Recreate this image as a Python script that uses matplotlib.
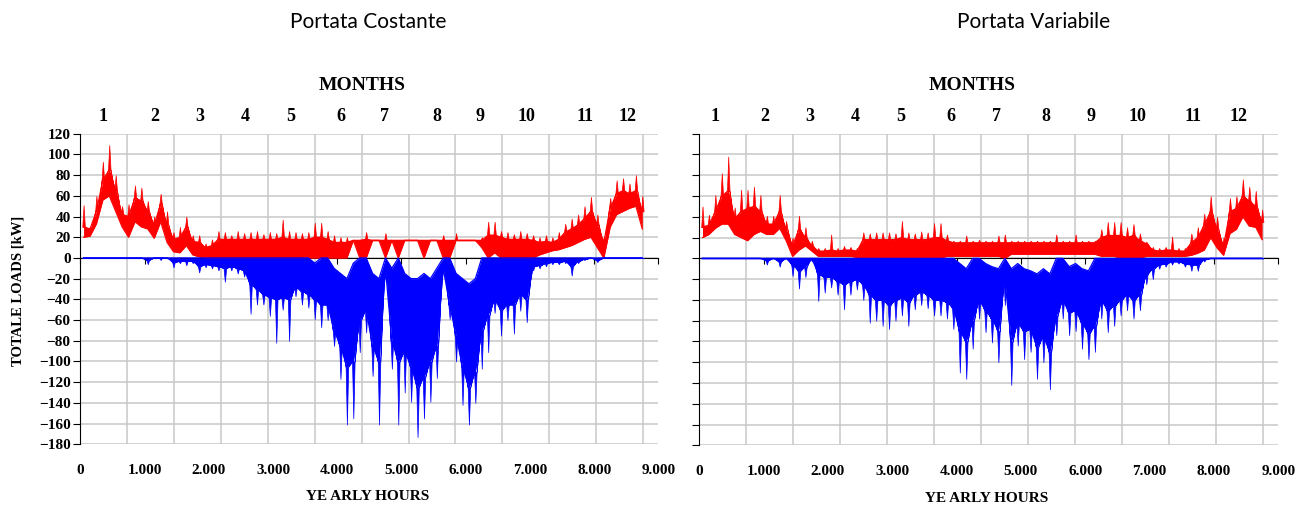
import numpy as np
import matplotlib.pyplot as plt

# hourly loads, summarised per 100-hour block (kW):
# for each series the two edges of the dense band (lo / body for heating,
# hi / body for cooling) and the furthest spike of the block
bin_start = np.arange(0, 8800, 100)
bin_mid = bin_start + 50

# Portata Costante
const_heat_hi = [51, 30, 60, 93, 109, 80, 50, 52, 70, 68,
                 55, 40, 62, 45, 25, 30, 40, 22, 22, 14,
                 18, 26, 25, 22, 26, 24, 25, 26, 23, 25,
                 24, 37, 26, 25, 24, 25, 34, 34, 26, 22,
                 20, 20, 17, 17, 25, 17, 17, 24, 17, 17,
                 17, 17, 17, 17, 17, 17, 22, 17, 24, 17,
                 17, 17, 20, 35, 35, 26, 25, 23, 26, 24,
                 22, 20, 22, 20, 25, 33, 38, 42, 50, 59,
                 42, 20, 58, 75, 77, 72, 80, 60]
const_heat_body = [30, 28, 45, 75, 85, 65, 42, 40, 58, 55,
                   45, 32, 52, 32, 18, 20, 30, 16, 15, 10,
                   12, 18, 18, 18, 18, 18, 18, 18, 18, 18,
                   18, 20, 18, 18, 18, 18, 20, 20, 18, 15,
                   15, 15, 17, 17, 18, 17, 17, 17, 17, 17,
                   17, 17, 17, 17, 17, 17, 17, 17, 17, 17,
                   17, 17, 17, 22, 22, 20, 18, 18, 18, 18,
                   17, 15, 16, 15, 18, 25, 28, 32, 38, 45,
                   32, 15, 48, 62, 65, 62, 65, 45]
const_heat_lo = [20, 21, 33, 56, 60, 45, 30, 20, 35, 30,
                 28, 19, 35, 15, 6, 5, 12, 3, 1, 0,
                 0, 0, 0, 0, 0, 0, 0, 0, 0, 0,
                 0, 0, 0, 0, 0, 0, 0, 0, 0, 0,
                 0, 0, 17, 0, 0, 17, 17, 0, 17, 0,
                 17, 17, 17, 0, 17, 17, 0, 0, 17, 17,
                 17, 17, 10, 0, 5, 0, 0, 0, 0, 0,
                 0, 3, 5, 7, 8, 10, 12, 15, 18, 20,
                 10, 0, 30, 42, 45, 48, 50, 28]
const_cool_hi = [0, 0, 0, 0, 0, 0, 0, 0, 0, 0,
                 0, 0, 0, 0, 0, 0, 0, 0, 0, 0,
                 0, 0, 0, 0, 0, 0, 0, 0, 0, 0,
                 0, 0, 0, 0, 0, 0, -5, 0, 0, -10,
                 -15, -20, -5, 0, 0, -15, -20, 0, -10, 0,
                 -15, -20, -20, -15, -20, -10, 0, 0, -15, -20,
                 -25, -20, 0, 0, 0, 0, 0, 0, 0, 0,
                 0, 0, 0, 0, 0, 0, 0, 0, 0, 0,
                 0, 0, 0, 0, 0, 0, 0, 0]
const_cool_body = [0, 0, 0, 0, 0, 0, 0, 0, 0, 0,
                   -2, 0, 0, 0, -4, -3, -3, -3, -8, -6,
                   -7, -8, -10, -8, -10, -12, -25, -30, -35, -38,
                   -40, -38, -40, -28, -32, -35, -40, -45, -45, -70,
                   -85, -105, -100, -60, -50, -85, -100, -10, -80, -100,
                   -90, -105, -125, -115, -100, -85, -10, -45, -75, -105,
                   -125, -110, -70, -55, -40, -50, -45, -45, -35, -40,
                   -8, -7, -5, -4, -4, -3, -8, -3, -1, 0,
                   -2, 0, 0, 0, 0, 0, 0, 0]
const_cool_lo = [0, 0, 0, 0, 0, 0, 0, 0, 0, 0,
                 -6, 0, -2, 0, -9, -5, -7, -5, -14, -9,
                 -10, -12, -23, -12, -15, -18, -54, -45, -45, -56,
                 -82, -50, -80, -37, -45, -48, -59, -67, -60, -85,
                 -117, -161, -155, -91, -72, -114, -161, -20, -107, -161,
                 -130, -139, -173, -155, -139, -116, -15, -59, -100, -142,
                 -161, -140, -107, -91, -53, -75, -60, -73, -51, -62,
                 -12, -10, -8, -6, -6, -5, -17, -5, -2, 0,
                 -4, 0, 0, 0, 0, 0, 0, 0]

# Portata Variabile
var_heat_hi = [50, 42, 61, 82, 98, 49, 66, 66, 69, 61,
               41, 41, 61, 36, 20, 41, 30, 17, 10, 10,
               23, 10, 12, 11, 10, 25, 24, 25, 25, 25,
               24, 36, 25, 24, 26, 25, 34, 34, 23, 17,
               17, 22, 17, 18, 17, 17, 22, 23, 17, 17,
               17, 17, 17, 17, 17, 23, 17, 17, 23, 17,
               17, 17, 28, 35, 35, 35, 30, 33, 24, 16,
               11, 10, 11, 21, 10, 10, 24, 30, 43, 60,
               40, 20, 58, 60, 76, 69, 65, 47]
var_heat_body = [30, 32, 45, 60, 65, 38, 45, 48, 50, 45,
                 33, 33, 45, 28, 12, 28, 20, 12, 7, 7,
                 8, 7, 8, 8, 7, 18, 18, 18, 18, 18,
                 18, 20, 18, 18, 18, 18, 20, 20, 17, 15,
                 15, 15, 15, 15, 15, 15, 15, 15, 15, 15,
                 15, 15, 15, 15, 15, 15, 15, 15, 15, 15,
                 15, 15, 20, 22, 22, 22, 20, 22, 17, 14,
                 8, 7, 8, 8, 7, 7, 15, 20, 32, 45,
                 28, 12, 45, 48, 60, 55, 50, 35]
var_heat_lo = [20, 23, 29, 33, 33, 23, 20, 17, 23, 26,
               23, 23, 29, 17, 2, 8, 12, 7, 2, 2,
               2, 2, 2, 2, 1, 0, 0, 0, 0, 0,
               0, 0, 0, 0, 0, 0, 0, 0, 2, 2,
               2, 2, 2, 2, 2, 2, 2, 0, 4, 4,
               4, 4, 4, 4, 4, 4, 4, 4, 4, 4,
               4, 4, 2, 2, 2, 0, 0, 0, 0, 2,
               2, 2, 2, 2, 2, 2, 3, 5, 8, 20,
               10, 3, 24, 28, 40, 31, 30, 18]
var_cool_hi = [0, 0, 0, 0, 0, 0, 0, 0, 0, 0,
               0, 0, 0, 0, 0, 0, 0, 0, 0, 0,
               0, 0, 0, 0, 0, 0, 0, 0, 0, 0,
               0, 0, 0, 0, 0, 0, 0, 0, 0, 0,
               -5, -10, 0, 0, -5, -8, -10, 0, -10, -5,
               -10, -12, -15, -10, -15, 0, 0, -8, -5, -10,
               -12, 0, 0, 0, 0, 0, 0, 0, 0, 0,
               0, 0, 0, 0, 0, 0, 0, 0, 0, 0,
               0, 0, 0, 0, 0, 0, 0, 0]
var_cool_body = [0, 0, 0, 0, 0, 0, 0, 0, 0, 0,
                 -2, 0, -3, 0, -6, -12, -8, 0, -15, -18,
                 -18, -22, -25, -22, -20, -25, -35, -40, -40, -45,
                 -40, -38, -42, -35, -32, -35, -40, -40, -42, -48,
                 -70, -80, -60, -40, -50, -58, -70, -20, -80, -62,
                 -70, -68, -85, -75, -90, -55, -40, -52, -50, -62,
                 -72, -65, -40, -50, -45, -40, -35, -40, -35, -15,
                 -10, -6, -5, -3, -3, -5, -6, -6, -1, 0,
                 0, 0, 0, 0, 0, 0, 0, 0]
var_cool_lo = [0, 0, 0, 0, 0, 0, 0, 0, 0, 0,
               -6, 0, -8, 0, -17, -29, -18, -3, -41, -33,
               -28, -35, -49, -35, -30, -40, -62, -60, -65, -68,
               -60, -55, -65, -49, -45, -48, -55, -55, -58, -68,
               -110, -116, -87, -58, -71, -81, -100, -45, -122, -84,
               -97, -90, -116, -100, -126, -74, -58, -74, -70, -87,
               -97, -90, -58, -71, -65, -55, -50, -58, -50, -25,
               -20, -10, -8, -6, -5, -8, -12, -12, -3, 0,
               0, 0, 0, 0, 0, 0, 0, 0]

# month label positions along the top (hours) and bottom tick labels
const_month_pos = [358, 1153, 1854, 2570, 3271, 4050, 4735, 5545, 6230, 6947, 7850, 8520]
var_month_pos = [249, 1018, 1720, 2426, 3126, 3913, 4614, 5381, 6089, 6812, 7682, 8382]
month_names = [str(m) for m in range(1, 13)]
hour_ticks = list(range(0, 9001, 1000))
hour_labels = ['0'] + [f'{t // 1000}.000' for t in hour_ticks[1:]]
month_edges = np.arange(0, 8761, 730)

SERIF = 'Liberation Serif'
RED = '#ff0000'
BLUE = '#0000ff'
GRID = '#c8c8c8'


def draw_series(ax, edge, body, peak, color, z):
    # dense part of the band
    ax.fill_between(bin_mid, edge, body, color=color, lw=0, zorder=z)
    ax.plot(bin_mid, edge, color=color, lw=0.9, zorder=z)
    ax.plot(bin_mid, body, color=color, lw=0.9, zorder=z)
    # the furthest spike of each block, drawn as a narrow needle
    body = np.asarray(body)
    peak = np.asarray(peak)
    xs = np.column_stack([bin_start + 30, bin_mid, bin_start + 70]).ravel()
    tip = np.column_stack([body, peak, body]).ravel()
    base = np.repeat(body, 3)
    ax.fill_between(xs, tip, base, color=color, lw=0.5, edgecolor=color, zorder=z)


def draw_panel(ax, heat, cool, month_pos, show_ylabels):
    ax.set_xlim(0, 9000)
    ax.set_ylim(-180, 120)
    ax.set_yticks(range(-180, 121, 20))
    ax.set_xticks(hour_ticks)
    ax.set_axisbelow(True)
    ax.yaxis.grid(True, color=GRID, lw=1.1)
    for h in month_edges[1:]:
        ax.axvline(h, color=GRID, lw=1.1, zorder=0.5)

    for s in ['top', 'right']:
        ax.spines[s].set_visible(False)
    ax.spines['left'].set_color('black')
    ax.spines['bottom'].set_position(('data', 0))
    ax.spines['bottom'].set_color('black')
    ax.tick_params(axis='x', direction='out', length=4, labelbottom=False)
    ax.tick_params(axis='y', direction='out', length=5, labelleft=show_ylabels,
                   labelsize=11, pad=2)
    for lab in ax.get_yticklabels():
        lab.set_fontfamily(SERIF)
        lab.set_fontweight('bold')

    draw_series(ax, *heat, RED, 3)
    draw_series(ax, *cool, BLUE, 3.1)

    tr = ax.get_xaxis_transform()
    for t, lab in zip(hour_ticks, hour_labels):
        ax.text(t, -0.084, lab, transform=tr, ha='center', va='center',
                family=SERIF, fontweight='bold', fontsize=11)
    for p, m in zip(month_pos, month_names):
        ax.text(p, 1.055, m, transform=tr, ha='center', va='center',
                family=SERIF, fontweight='bold', fontsize=13)


fig = plt.figure(figsize=(13.11, 5.08), dpi=100)
ax1 = fig.add_axes([0.0613, 0.1254, 0.4409, 0.6114])
ax2 = fig.add_axes([0.5334, 0.1234, 0.4416, 0.6134])

draw_panel(ax1, (const_heat_lo, const_heat_body, const_heat_hi),
           (const_cool_hi, const_cool_body, const_cool_lo), const_month_pos, True)
draw_panel(ax2, (var_heat_lo, var_heat_body, var_heat_hi),
           (var_cool_hi, var_cool_body, var_cool_lo), var_month_pos, False)

W, H = 1311, 508
fig.text(368 / W, 1 - 22 / H, 'Portata Costante', ha='center', va='center',
         family='Lato', fontsize=15)
fig.text(1034 / W, 1 - 22 / H, 'Portata Variabile', ha='center', va='center',
         family='Lato', fontsize=15)
fig.text(362 / W, 1 - 85 / H, 'MONTHS', ha='center', va='center',
         family=SERIF, fontweight='bold', fontsize=14)
fig.text(972 / W, 1 - 85 / H, 'MONTHS', ha='center', va='center',
         family=SERIF, fontweight='bold', fontsize=14)
fig.text(368 / W, 1 - 497 / H, 'YE ARLY HOURS', ha='center', va='center',
         family=SERIF, fontweight='bold', fontsize=11)
fig.text(987 / W, 1 - 498 / H, 'YE ARLY HOURS', ha='center', va='center',
         family=SERIF, fontweight='bold', fontsize=11)
fig.text(18 / W, 1 - 291 / H, 'TOTALE LOADS [kW]', ha='center', va='center',
         rotation=90, family=SERIF, fontweight='bold', fontsize=10.5)

fig.savefig('out.png', dpi=100, facecolor='white')
